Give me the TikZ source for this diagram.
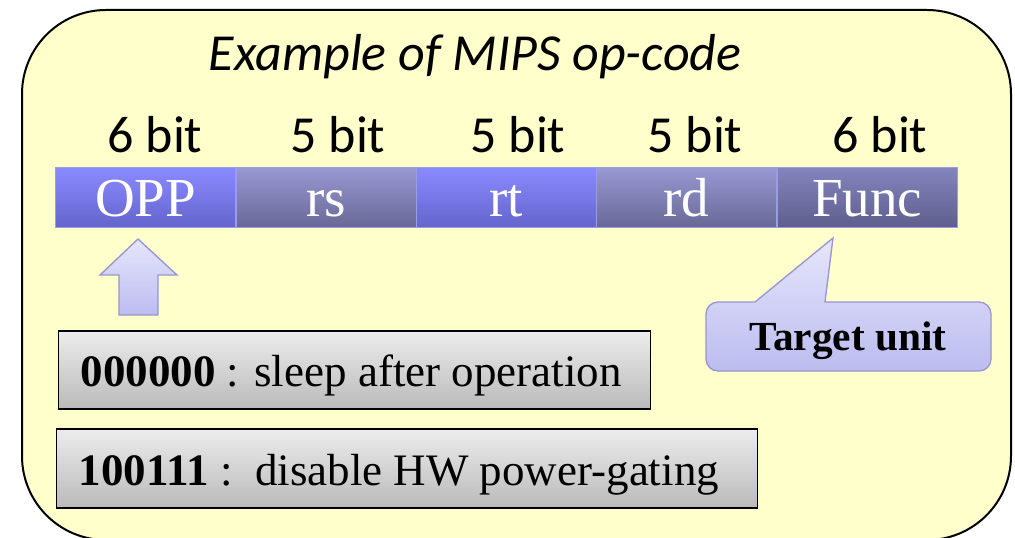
\documentclass[tikz,border=0pt]{standalone}
\usepackage{fontspec}
\setmainfont{Liberation Serif}
\setsansfont{Carlito}
\definecolor{panel}{RGB}{255,255,204}
\definecolor{opTop}{RGB}{138,138,255}
\definecolor{opBot}{RGB}{100,100,204}
\definecolor{regTop}{RGB}{152,152,210}
\definecolor{regBot}{RGB}{104,104,150}
\definecolor{fnTop}{RGB}{132,132,190}
\definecolor{fnBot}{RGB}{94,94,140}
\definecolor{cellEdge}{RGB}{156,156,226}
\definecolor{paleTop}{RGB}{230,230,252}
\definecolor{paleBot}{RGB}{188,188,240}
\definecolor{paleEdge}{RGB}{150,150,210}
\definecolor{greyTop}{RGB}{236,236,236}
\definecolor{greyBot}{RGB}{186,186,186}
\begin{document}
\begin{tikzpicture}[x=0.75pt,y=-0.75pt,
  heading/.style={font=\sffamily\itshape\fontsize{39}{46}\selectfont, anchor=base, inner sep=0pt},
  bitlabel/.style={font=\sffamily\fontsize{39}{46}\selectfont, anchor=base, inner sep=0pt},
  cell/.style={minimum width=135pt, minimum height=45pt, inner sep=0pt,
    text height=30pt, text depth=1.5pt, text=white, draw=cellEdge, line width=0.75pt,
    font=\fontsize{41.25}{48}\selectfont},
  opcell/.style={cell, top color=opTop, bottom color=opBot},
  regcell/.style={cell, top color=regTop, bottom color=regBot},
  fncell/.style={cell, top color=fnTop, bottom color=fnBot},
  codebox/.style={anchor=west, draw=black, line width=1.1pt, top color=greyTop, bottom color=greyBot,
    inner xsep=16.5pt, inner ysep=0pt, font=\fontsize{33.75}{40}\selectfont},
  blockarrow/.style={draw=paleEdge, line width=1pt, top color=paleTop, bottom color=paleBot},
]
\useasboundingbox (0,0) rectangle (1015,538);
\fill[white] (0,0) rectangle (1015,538);

% yellow panel
\draw[line width=1.5pt, fill=panel, rounded corners=63pt] (22,10) rectangle (1011,540);

% heading
\node[heading] (title) at (475,71) {Example of MIPS op-code};

% field widths
\node[bitlabel] (w1) at (155,153) {6 bit};
\node[bitlabel] (w2) at (338,153) {5 bit};
\node[bitlabel] (w3) at (518,153) {5 bit};
\node[bitlabel] (w4) at (695,153) {5 bit};
\node[bitlabel] (w5) at (880,153) {6 bit};

% instruction fields
\node[opcell]  (opp)  at (145.5,198) {OPP};
\node[regcell] (rs)   at (326,198)   {rs};
\node[opcell]  (rt)   at (506,198)   {rt};
\node[regcell] (rd)   at (686,198)   {rd};
\node[fncell]  (func) at (867,198)   {Func};

% code meanings
\node[codebox, minimum height=58.5pt, text height=28pt, text depth=2.5pt] (sleep) at (58,370)
  {\makebox[411pt][l]{\textbf{000000} : sleep after operation}};
\node[codebox, minimum height=59.25pt, text height=27.5pt, text depth=2.7pt] (nogate) at (56,468.5)
  {\makebox[492.75pt][l]{\textbf{100111} :\ \ disable HW power-gating}};

% block arrow from the code box up to the OPP field
\coordinate (tip) at (138,239);
\shade[blockarrow] (tip) -- ++(39,36) -- ++(-19,0) -- ++(0,40) -- ++(-39,0)
  -- ++(0,-40) -- ++(-19,0) -- cycle;

% callout pointing at the Func field
\coordinate (fntip) at (833,238);
\shade[blockarrow] (755,302) -- (fntip) -- (825,302) -- (979,302)
  arc[start angle=-90, end angle=0, radius=12] -- (991,359)
  arc[start angle=0, end angle=90, radius=12] -- (718,371)
  arc[start angle=90, end angle=180, radius=12] -- (706,314)
  arc[start angle=180, end angle=270, radius=12] -- cycle;
\node[anchor=base, inner sep=0pt, font=\bfseries\fontsize{31}{36}\selectfont] (target) at (848,351) {Target unit};
\end{tikzpicture}
\end{document}
